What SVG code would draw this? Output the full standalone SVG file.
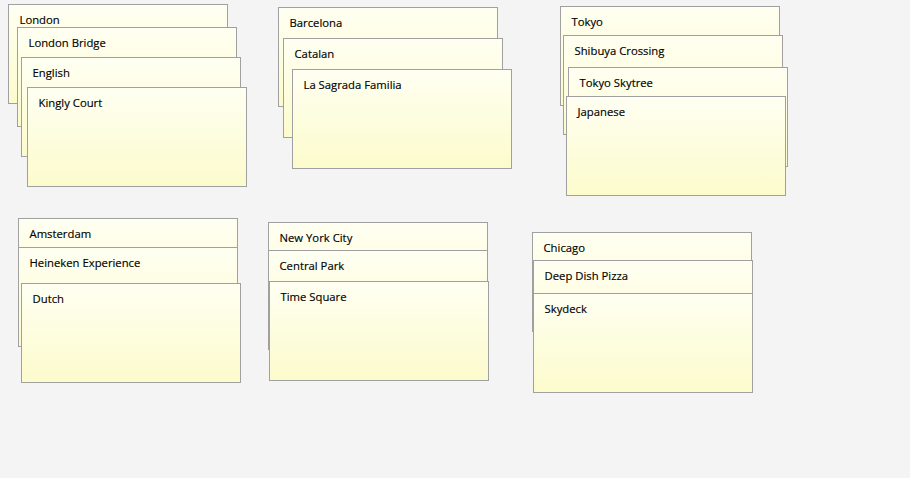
<svg xmlns="http://www.w3.org/2000/svg" width="910" height="478" viewBox="0 0 910 478">
<defs>
<linearGradient id="note" x1="0" y1="0" x2="0" y2="1">
<stop offset="0" stop-color="#fffff2"/>
<stop offset="1" stop-color="#fcfbcc"/>
</linearGradient>
<style>
.card rect{fill:url(#note);stroke:#a0a0a0;stroke-width:1}
.card text{font-family:"Open Sans","Noto Sans","DejaVu Sans",sans-serif;font-size:11.3px;fill:#000;stroke:#000;stroke-width:0.15}
</style>
</defs>
<rect width="910" height="478" fill="#f4f4f4"/>
<g id="london">
<g id="n-london" class="card"><rect x="8.5" y="4.5" width="219" height="99"/><text x="19.5" y="24">London</text></g>
<g id="n-london-bridge" class="card"><rect x="17.5" y="27.5" width="219" height="99"/><text x="28.5" y="47">London Bridge</text></g>
<g id="n-english" class="card"><rect x="21.5" y="57.5" width="219" height="99"/><text x="32.5" y="77">English</text></g>
<g id="n-kingly-court" class="card"><rect x="27.5" y="87.5" width="219" height="99"/><text x="38.5" y="107">Kingly Court</text></g>
</g>
<g id="barcelona">
<g id="n-barcelona" class="card"><rect x="278.5" y="7.5" width="219" height="99"/><text x="289.5" y="27">Barcelona</text></g>
<g id="n-catalan" class="card"><rect x="283.5" y="38.5" width="219" height="99"/><text x="294.5" y="58">Catalan</text></g>
<g id="n-sagrada" class="card"><rect x="292.5" y="69.5" width="219" height="99"/><text x="303.5" y="89">La Sagrada Familia</text></g>
</g>
<g id="tokyo">
<g id="n-tokyo" class="card"><rect x="560.5" y="6.5" width="219" height="99"/><text x="571.5" y="26">Tokyo</text></g>
<g id="n-shibuya" class="card"><rect x="563.5" y="35.5" width="219" height="99"/><text x="574.5" y="55">Shibuya Crossing</text></g>
<g id="n-skytree" class="card"><rect x="568.5" y="67.5" width="219" height="99"/><text x="579.5" y="87">Tokyo Skytree</text></g>
<g id="n-japanese" class="card"><rect x="566.5" y="96.5" width="219" height="99"/><text x="577.5" y="116">Japanese</text></g>
</g>
<g id="amsterdam">
<g id="n-amsterdam" class="card"><rect x="18.5" y="218.5" width="219" height="99"/><text x="29.5" y="238">Amsterdam</text></g>
<g id="n-heineken" class="card"><rect x="18.5" y="247.5" width="219" height="99"/><text x="29.5" y="267">Heineken Experience</text></g>
<g id="n-dutch" class="card"><rect x="21.5" y="283.5" width="219" height="99"/><text x="32.5" y="303">Dutch</text></g>
</g>
<g id="newyork">
<g id="n-nyc" class="card"><rect x="268.5" y="222.5" width="219" height="99"/><text x="279.5" y="242">New York City</text></g>
<g id="n-central-park" class="card"><rect x="268.5" y="250.5" width="219" height="99"/><text x="279.5" y="270">Central Park</text></g>
<g id="n-time-square" class="card"><rect x="269.5" y="281.5" width="219" height="99"/><text x="280.5" y="301">Time Square</text></g>
</g>
<g id="chicago">
<g id="n-chicago" class="card"><rect x="532.5" y="232.5" width="219" height="99"/><text x="543.5" y="252">Chicago</text></g>
<g id="n-deep-dish" class="card"><rect x="533.5" y="260.5" width="219" height="99"/><text x="544.5" y="280">Deep Dish Pizza</text></g>
<g id="n-skydeck" class="card"><rect x="533.5" y="293.5" width="219" height="99"/><text x="544.5" y="313">Skydeck</text></g>
</g>
<g id="connectors"/>
</svg>
